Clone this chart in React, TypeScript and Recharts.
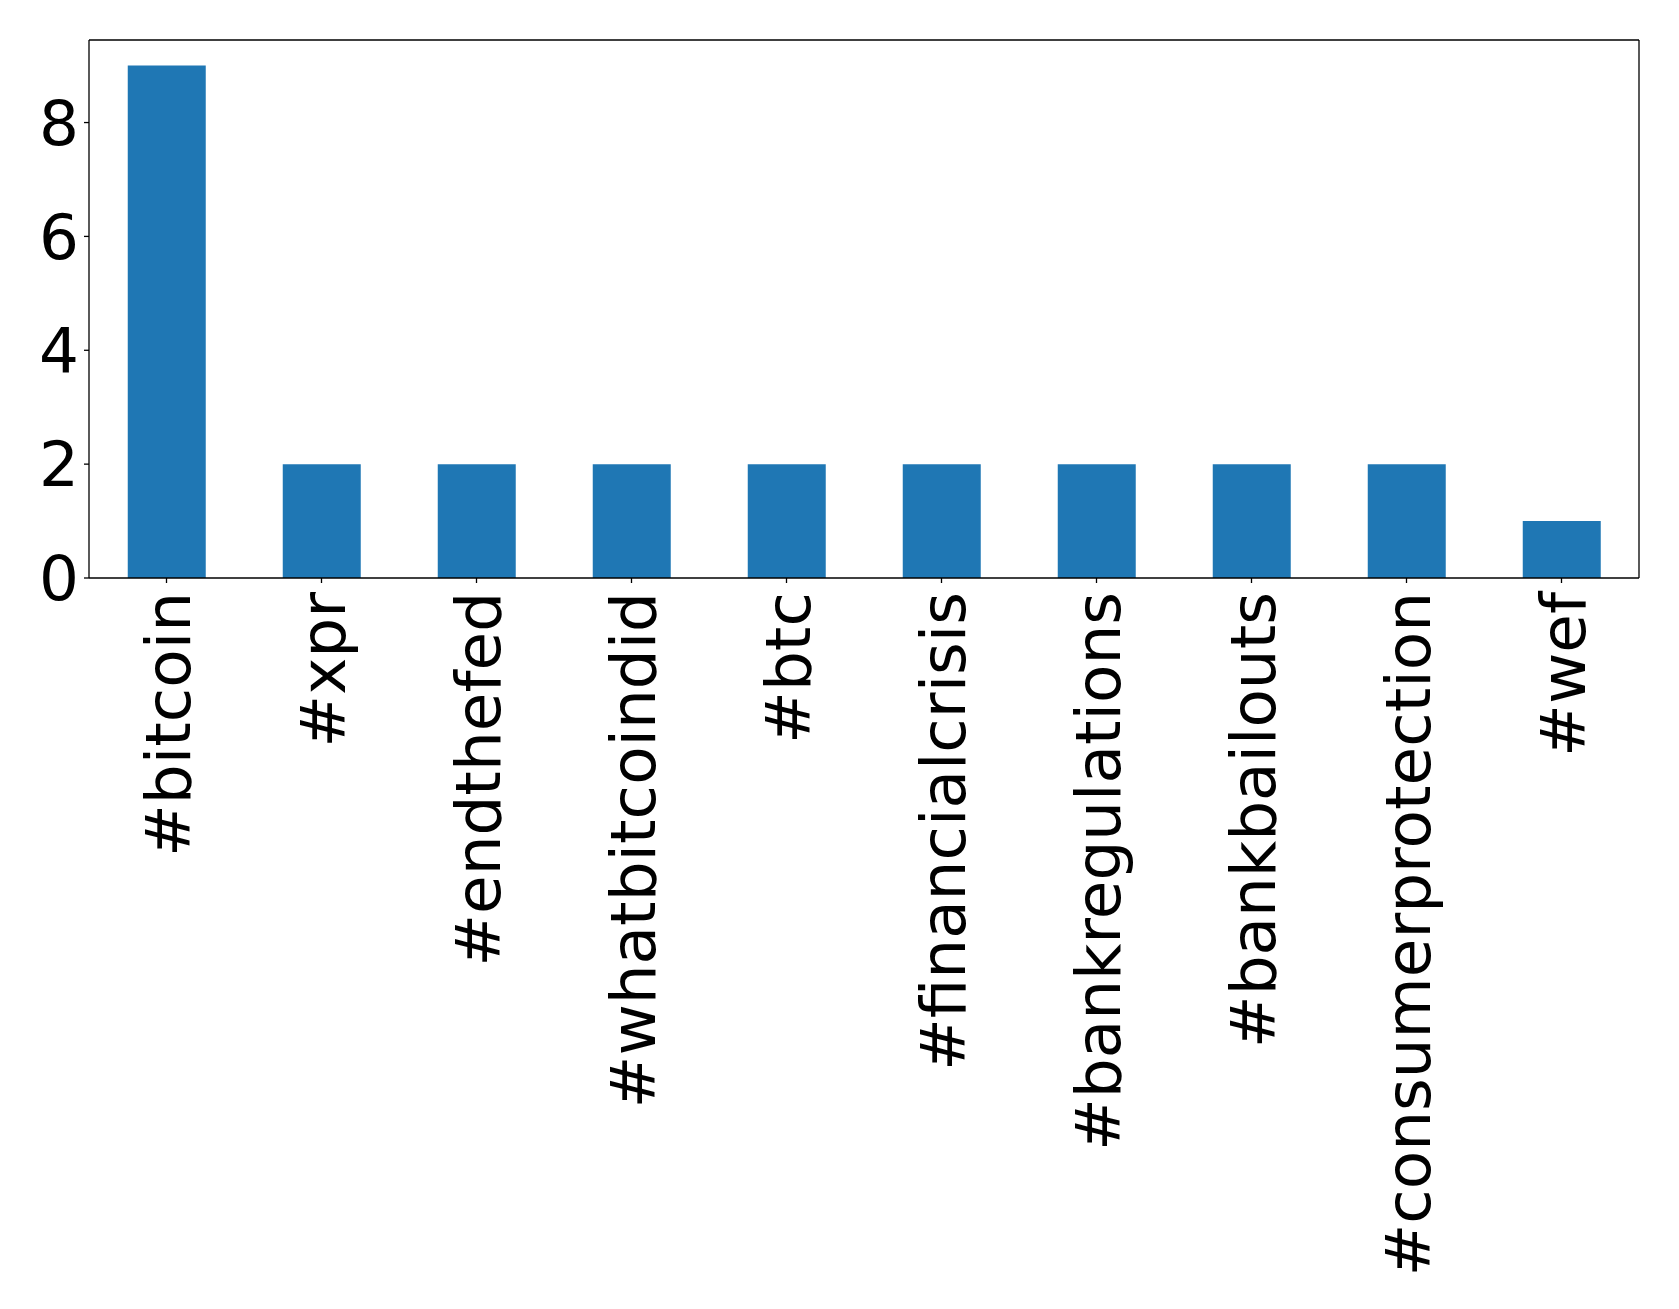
import React from "react";
import { BarChart, Bar, XAxis, YAxis } from "recharts";

const hashtags = [
  "#bitcoin",
  "#xpr",
  "#endthefed",
  "#whatbitcoindid",
  "#btc",
  "#financialcrisis",
  "#bankregulations",
  "#bankbailouts",
  "#consumerprotection",
  "#wef",
];
const counts = [9, 2, 2, 2, 2, 2, 2, 2, 2, 1];
const yTicks = [0, 2, 4, 6, 8];

const data = hashtags.map((tag, i) => ({ tag, count: counts[i] }));

const FONT = "'DejaVu Sans', sans-serif";
const FS = 62.8;

const RotatedTick = (props: any) => {
  const { x, y, payload } = props;
  return (
    <g transform={`translate(${x},${y})`}>
      <text
        transform="rotate(-90)"
        textAnchor="end"
        x={-4}
        y={0}
        dy={23}
        fontSize={FS}
        fontFamily={FONT}
        fill="#000"
      >
        {payload.value}
      </text>
    </g>
  );
};

export default function App() {
  return (
    <div style={{ position: "absolute", left: 0, top: 0, width: 1679, height: 1309, background: "#fff" }}>
      <BarChart
        width={1679}
        height={1309}
        data={data}
        margin={{ top: 39, right: 39, left: 0, bottom: 0 }}
        barCategoryGap="25%"
      >
        <XAxis
          dataKey="tag"
          xAxisId="main"
          height={731}
          interval={0}
          tickSize={5}
          tickMargin={5}
          tick={<RotatedTick />}
          axisLine={{ stroke: "#000", strokeWidth: 1.3 }}
          tickLine={{ stroke: "#000", strokeWidth: 1.3 }}
          padding={{ left: 0, right: 0 }}
        />
        <XAxis
          dataKey="tag"
          xAxisId="top"
          orientation="top"
          height={1}
          tick={false}
          tickLine={false}
          axisLine={{ stroke: "#000", strokeWidth: 1.3 }}
        />
        <YAxis
          yAxisId="main"
          width={89}
          domain={[0, 9.45]}
          ticks={yTicks}
          interval={0}
          allowDataOverflow
          tickSize={5}
          tickMargin={5}
          tick={{ fontSize: FS, fontFamily: FONT, fill: "#000" }}
          axisLine={{ stroke: "#000", strokeWidth: 1.3 }}
          tickLine={{ stroke: "#000", strokeWidth: 1.3 }}
        />
        <YAxis
          yAxisId="right"
          orientation="right"
          width={1}
          domain={[0, 9.45]}
          tick={false}
          tickLine={false}
          axisLine={{ stroke: "#000", strokeWidth: 1.3 }}
        />
        <Bar
          dataKey="count"
          xAxisId="main"
          yAxisId="main"
          fill="#1f77b4"
          isAnimationActive={false}
        />
      </BarChart>
    </div>
  );
}
